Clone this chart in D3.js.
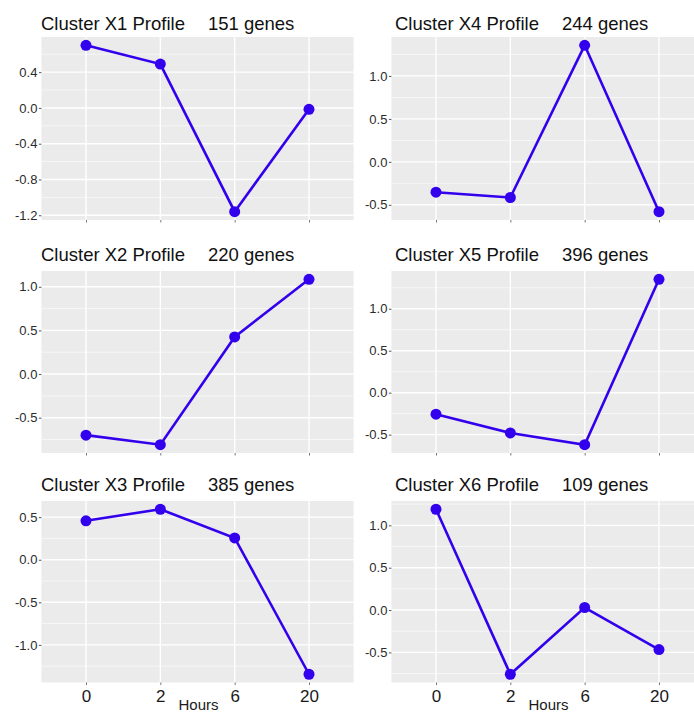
<!DOCTYPE html>
<html>
<head>
<meta charset="utf-8">
<script src="https://cdn.jsdelivr.net/npm/d3@7"></script>
<style>
  html, body { margin: 0; padding: 0; background: #fff; }
  svg { display: block; font-family: "Liberation Sans", Arial, sans-serif; }
</style>
</head>
<body>
<svg id="chart" width="694" height="713"></svg>
<script>
// ---- data ----
const hours = ["0", "2", "6", "20"];
const clusterNames = ["X1", "X4", "X2", "X5", "X3", "X6"];
const geneCounts = [151, 244, 220, 396, 385, 109];
const valuesX1 = [0.70, 0.49, -1.16, -0.015];
const valuesX4 = [-0.353, -0.415, 1.356, -0.58];
const valuesX2 = [-0.70, -0.81, 0.425, 1.086];
const valuesX5 = [-0.256, -0.48, -0.62, 1.351];
const valuesX3 = [0.457, 0.593, 0.256, -1.345];
const valuesX6 = [1.19, -0.758, 0.03, -0.467];
const ticksX1 = [-1.2, -0.8, -0.4, 0.0, 0.4];
const ticksX4 = [-0.5, 0.0, 0.5, 1.0];
const ticksX2 = [-0.5, 0.0, 0.5, 1.0];
const ticksX5 = [-0.5, 0.0, 0.5, 1.0];
const ticksX3 = [-1.0, -0.5, 0.0, 0.5];
const ticksX6 = [-0.5, 0.0, 0.5, 1.0];
const xAxisTitle = "Hours";

const allValues = [valuesX1, valuesX4, valuesX2, valuesX5, valuesX3, valuesX6];
const allTicks = [ticksX1, ticksX4, ticksX2, ticksX5, ticksX3, ticksX6];

// ---- layout ----
const colX = [[41.4, 353.6], [391.4, 703.6]];
const rowY = [[37, 220], [271, 453], [501, 682.5]];
const titleX = [41, 395];
const titleBase = [29.5, 260.5, 491];
const lineColor = "#3300ee";
const FONT = '"Liberation Sans", Arial, sans-serif';

const svg = d3.select("#chart");
const fmt = d => d.toFixed(1);

allValues.forEach((vals, i) => {
  const col = i % 2, row = Math.floor(i / 2);
  const [x0, x1] = colX[col];
  const [y0, y1] = rowY[row];
  const ext = d3.extent(vals);
  const pad = (ext[1] - ext[0]) * 0.05;
  const y = d3.scaleLinear().domain([ext[0] - pad, ext[1] + pad]).range([y1, y0]);
  const x = d3.scalePoint().domain(hours).range([x0, x1]).padding(0.6);
  const ticks = allTicks[i];
  const step = ticks[1] - ticks[0];
  const minor = [];
  for (let k = -1; k < ticks.length; k++) {
    const v = ticks[0] + (k + 0.5) * step;
    if (v >= y.domain()[0] && v <= y.domain()[1]) minor.push(v);
  }

  const g = svg.append("g");
  g.append("rect").attr("x", x0).attr("y", y0)
    .attr("width", x1 - x0).attr("height", y1 - y0).attr("fill", "#ebebeb");

  g.selectAll(".minor").data(minor).join("line")
    .attr("x1", x0).attr("x2", x1)
    .attr("y1", d => y(d)).attr("y2", d => y(d))
    .attr("stroke", "#fff").attr("stroke-width", 0.7).attr("opacity", 0.85);
  g.selectAll(".major").data(ticks).join("line")
    .attr("x1", x0).attr("x2", x1)
    .attr("y1", d => y(d)).attr("y2", d => y(d))
    .attr("stroke", "#fff").attr("stroke-width", 1.4);
  g.selectAll(".vmaj").data(hours).join("line")
    .attr("x1", d => x(d)).attr("x2", d => x(d))
    .attr("y1", y0).attr("y2", y1)
    .attr("stroke", "#fff").attr("stroke-width", 1.4);

  // y axis
  const ya = g.append("g").attr("transform", `translate(${x0},0)`)
    .call(d3.axisLeft(y).tickValues(ticks).tickFormat(fmt).tickSize(2.5).tickPadding(1.5));
  ya.select(".domain").remove();
  ya.selectAll("line").attr("stroke", "#555");
  ya.selectAll("text").attr("fill", "#2b2b2b").style("font-size", "13px")
    .style("font-family", FONT);

  // x axis
  const bottom = row === 2;
  const xa = g.append("g").attr("transform", `translate(0,${y1})`)
    .call(d3.axisBottom(x).tickSize(2.5).tickPadding(5).tickFormat(d => bottom ? d : ""));
  xa.select(".domain").remove();
  xa.selectAll("line").attr("stroke", "#777");
  xa.selectAll("text").attr("fill", "#1a1a1a").style("font-size", "17px")
    .style("font-family", FONT);

  if (bottom) {
    g.append("text").attr("x", (x0 + x1) / 2 + 1).attr("y", 709.5)
      .attr("text-anchor", "middle").attr("fill", "#1a1a1a")
      .style("font-size", "15px").style("font-family", FONT).text(xAxisTitle);
  }

  // line + points
  const data = hours.map((h, k) => ({ h, v: vals[k] }));
  g.append("path").datum(data)
    .attr("fill", "none").attr("stroke", lineColor).attr("stroke-width", 2.6)
    .attr("d", d3.line().x(d => x(d.h)).y(d => y(d.v)));
  g.selectAll(".pt").data(data).join("circle")
    .attr("cx", d => x(d.h)).attr("cy", d => y(d.v)).attr("r", 5.5)
    .attr("fill", lineColor);

  // title
  const t = g.append("text").attr("x", titleX[col]).attr("y", titleBase[row])
    .attr("fill", "#111").style("font-size", "18.5px").style("font-family", FONT);
  t.append("tspan").text(`Cluster ${clusterNames[i]} Profile`);
  t.append("tspan").attr("dx", 23).text(`${geneCounts[i]} genes`);
});
</script>
</body>
</html>
